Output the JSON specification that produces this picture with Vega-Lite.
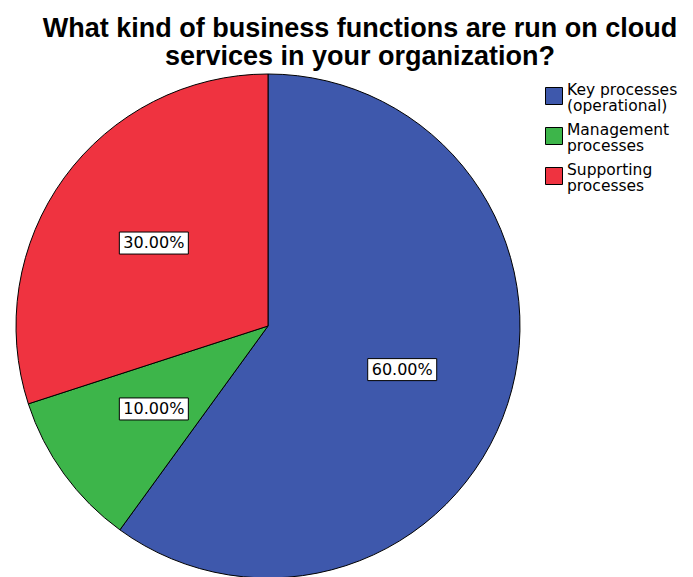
{
  "$schema": "https://vega.github.io/schema/vega-lite/v6.json",
  "width": 536,
  "height": 502,
  "autosize": {"type": "none"},
  "padding": {"left": 0, "top": 75, "right": 157, "bottom": 0},
  "background": "white",
  "title": {
    "text": ["What kind of business functions are run on cloud", "services in your organization?"],
    "font": "Liberation Sans",
    "fontSize": 27,
    "fontWeight": "bold",
    "color": "black",
    "anchor": "middle",
    "frame": "group",
    "baseline": "alphabetic",
    "dx": 92,
    "offset": -20,
    "lineHeight": 28
  },
  "data": {
    "values": [
      {"category": "Key processes (operational)", "percent": 60},
      {"category": "Management processes", "percent": 10},
      {"category": "Supporting processes", "percent": 30}
    ]
  },
  "config": {"view": {"stroke": null}},
  "layer": [
    {
      "mark": {"type": "arc", "outerRadius": 252, "stroke": "black", "strokeWidth": 1},
      "encoding": {
        "theta": {"field": "percent", "type": "quantitative", "stack": true},
        "order": {"field": "category", "sort": "ascending"},
        "color": {
          "field": "category",
          "type": "nominal",
          "scale": {
            "domain": ["Key processes (operational)", "Management processes", "Supporting processes"],
            "range": ["#3E58AC", "#3DB54A", "#EF3340"]
          },
          "legend": {
            "title": null,
            "orient": "none",
            "legendX": 545,
            "legendY": 12,
            "padding": 0,
            "symbolType": "square",
            "symbolSize": 289,
            "symbolStrokeColor": "black",
            "symbolStrokeWidth": 1,
            "symbolOpacity": 1,
            "labelFont": "DejaVu Sans",
            "labelFontSize": 15.5,
            "labelColor": "black",
            "labelOffset": 4,
            "labelLimit": 300,
            "rowPadding": 8,
            "labelExpr": "datum.label == 'Key processes (operational)' ? ['Key processes', '(operational)'] : split(datum.label, ' ')",
            "encode": {"labels": {"update": {"lineHeight": {"value": 16}, "dy": {"value": -6}}}}
          }
        }
      }
    },
    {
      "transform": [
        {"window": [{"op": "sum", "field": "percent", "as": "cum"}], "sort": [{"field": "category"}]},
        {"calculate": "(datum.cum - datum.percent / 2) / 100 * 2 * PI", "as": "mid"},
        {"calculate": "0.56 * sin(datum.mid)", "as": "lx"},
        {"calculate": "0.56 * cos(datum.mid)", "as": "ly"}
      ],
      "mark": {
        "type": "point",
        "shape": "M-1,-0.319H1V0.319H-1Z",
        "size": 4761,
        "filled": true,
        "fill": "white",
        "stroke": "black",
        "strokeWidth": 1,
        "opacity": 1
      },
      "encoding": {
        "x": {"field": "lx", "type": "quantitative", "scale": {"domain": [-1.0635, 1.0635], "nice": false, "zero": false}, "axis": null},
        "y": {"field": "ly", "type": "quantitative", "scale": {"domain": [-0.996, 0.996], "nice": false, "zero": false}, "axis": null}
      }
    },
    {
      "transform": [
        {"window": [{"op": "sum", "field": "percent", "as": "cum"}], "sort": [{"field": "category"}]},
        {"calculate": "(datum.cum - datum.percent / 2) / 100 * 2 * PI", "as": "mid"},
        {"calculate": "0.56 * sin(datum.mid)", "as": "lx"},
        {"calculate": "0.56 * cos(datum.mid)", "as": "ly"},
        {"calculate": "format(datum.percent, '.2f') + '%'", "as": "lab"}
      ],
      "mark": {"type": "text", "font": "DejaVu Sans", "fontSize": 16, "color": "black", "align": "center", "baseline": "middle"},
      "encoding": {
        "x": {"field": "lx", "type": "quantitative"},
        "y": {"field": "ly", "type": "quantitative"},
        "text": {"field": "lab", "type": "nominal"}
      }
    }
  ]
}
